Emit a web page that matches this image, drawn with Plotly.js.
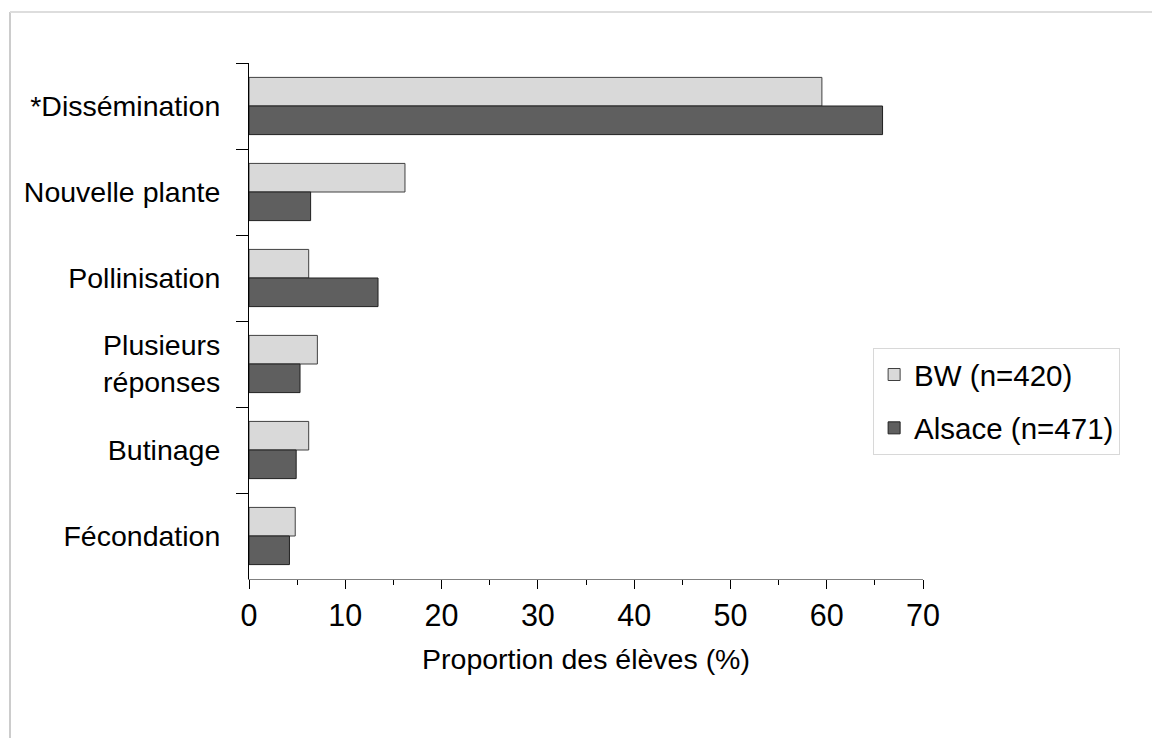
<!DOCTYPE html>
<html>
<head>
<meta charset="utf-8">
<script src="https://cdn.plot.ly/plotly-3.0.1.min.js"></script>
<style>html,body{margin:0;padding:0;background:#fff;}#chart{width:1152px;height:738px;}</style>
</head>
<body>
<div id="chart"></div>
<script>
const categories = ["*Dissémination", "Nouvelle plante", "Pollinisation", "Plusieurs<br>réponses", "Butinage", "Fécondation"];
const seriesNames = ["BW (n=420)", "Alsace (n=471)"];
const bwValues = [59.5, 16.2, 6.2, 7.1, 6.2, 4.8];
const alsaceValues = [65.8, 6.4, 13.4, 5.3, 4.9, 4.2];
const xTicks = [0, 10, 20, 30, 40, 50, 60, 70];

const FAM = "Liberation Sans, Arial, sans-serif";
const font = {family: FAM, size: 28.5, color: "#000"};
const tickFont = {family: FAM, size: 30.5, color: "#000"};
const legendFont = {family: FAM, size: 29.5, color: "#000"};

const traces = [
  {type: "bar", orientation: "h", name: seriesNames[0], y: categories, x: bwValues,
   marker: {color: "#d9d9d9", line: {color: "#404040", width: 1}}, legendgroup: "a"},
  {type: "bar", orientation: "h", name: seriesNames[1], y: categories, x: alsaceValues,
   marker: {color: "#5f5f5f", line: {color: "#202020", width: 1}}, legendgroup: "b"}
];

const layout = {
  width: 1152, height: 738,
  margin: {l: 249, r: 229, t: 63, b: 159, pad: 0},
  paper_bgcolor: "#fff", plot_bgcolor: "#fff",
  font: font,
  barmode: "group",
  bargap: 0.335, bargroupgap: 0,
  showlegend: true,
  legend: {x: 0.926, y: 0.448, xanchor: "left", yanchor: "top",
           bordercolor: "#d8d8d8", borderwidth: 1, bgcolor: "#fff",
           font: legendFont,
           tracegroupgap: 12, traceorder: "grouped"},
  xaxis: {range: [0, 70], tickvals: xTicks, ticktext: xTicks.map(String),
          showgrid: false, zeroline: false, showline: true, linecolor: "#808080", linewidth: 1,
          ticks: "outside", ticklen: 9, tickcolor: "#000", tickwidth: 1,
          minor: {dtick: 5, ticks: "outside", ticklen: 5, tickcolor: "#000", showgrid: false},
          tickfont: tickFont,
          title: {text: "Proportion des élèves (%)", font: font, standoff: 18},
          fixedrange: true},
  yaxis: {type: "category", autorange: "reversed", showgrid: false, zeroline: false,
          showline: true, linecolor: "#000", linewidth: 1,
          ticks: "outside", ticklen: 12, tickcolor: "#000", tickson: "boundaries",
          ticklabelstandoff: 22,
          tickfont: font, fixedrange: true},
  shapes: [
    {type: "line", xref: "paper", yref: "paper", x0: (10 - 249) / 674, x1: (10 - 249) / 674,
     y0: (738 - 579) / -516, y1: (579 - 12) / 516, line: {color: "#cccccc", width: 2}},
    {type: "line", xref: "paper", yref: "paper", x0: (10 - 249) / 674, x1: (1152 - 249) / 674,
     y0: (579 - 12) / 516, y1: (579 - 12) / 516, line: {color: "#dddddd", width: 2}}
  ]
};

Plotly.newPlot("chart", traces, layout, {displayModeBar: false, staticPlot: true});
</script>
</body>
</html>
